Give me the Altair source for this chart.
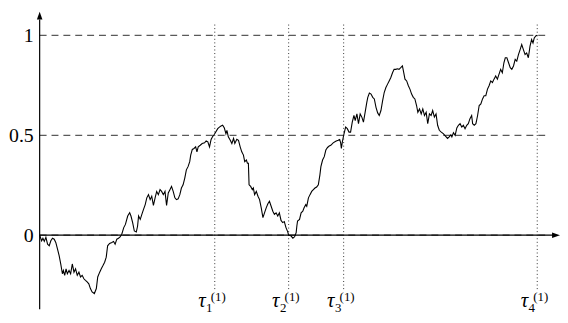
import altair as alt
import pandas as pd

# Path of the process (time index, value)
t = [0, 2, 3.3, 4.7, 6.3, 8, 9.7, 11.3, 13, 14.7,
     16.3, 18, 19.7, 21.3, 23, 24, 25.3, 26.7, 28, 29.7,
     31.3, 33, 34.7, 36.3, 38, 39.7, 41.3, 43, 44.7, 46.3,
     48, 49.7, 51.3, 53, 55.3, 57.3, 58.7, 60.7, 62.3, 64,
     65.7, 67.3, 68.7, 70.7, 73, 74.7, 76.3, 78, 79.7, 81.3, 83,
     85, 86.7, 89, 91, 92.3, 94, 95.7, 97.7, 99, 100,
     101.7, 103.3, 105, 106.7, 108.3, 110, 111.7, 113.3, 115, 116.7,
     118.3, 120, 121.7, 123.3, 125, 126.7, 128.3, 130, 131.7, 133.3,
     135, 136.7, 138.3, 140, 141.7, 143.3, 145, 146.7, 148.3, 150,
     151.7, 152.7, 154.3, 156, 157.7, 159, 160.3, 162.3, 164.3, 166.7,
     168.3, 170, 171.7, 173.3, 175, 176.7,
     180, 181.7, 183.3, 185, 186.7, 188.3, 189.3, 190.7, 192.7, 194.3,
     196, 197.3, 199.3, 201, 202.7, 204.3, 206, 207.3, 209, 210,
     211, 211.7, 213.3, 215, 216, 217.3, 219, 220.7, 222.3, 224,
     225.7, 227.3, 229, 230.7, 232.3, 234, 235.7, 237.3, 239, 240.7,
     242.3, 244, 245.7, 247.3, 249, 250.7, 251.7, 254, 256, 257.7,
     259.3, 260,
     260.7, 262.7, 264.3, 266, 267.3, 269, 270, 271.7, 273.3, 275,
     276.7, 278.3, 280, 281.7, 283.3, 284.3, 286, 287.7, 289.3, 291,
     292.7, 294.3, 296.7, 299.3, 301.7, 303.3, 304.3, 305, 306, 307.3,
     309.3, 311, 312.7, 314.3, 316, 317.7, 319, 320.7, 322.3, 324,
     325.7, 327.3, 329, 330.7,
     331.7, 333.3, 335, 336.7, 338.3, 340, 341.7, 343.3, 345, 346.7,
     348.3, 350, 351.7, 353.3, 355, 356.7, 358.3, 360, 361.7, 363.3,
     365, 366.7, 367.7, 369.3, 371, 372.7, 374.3, 376, 377.7, 379.3,
     381, 382.3, 384, 385.7, 387.3, 389, 390.7, 392.3, 394, 395.7,
     397.3, 399, 400.7, 402.3, 404, 406, 408, 410, 412.3, 414,
     415.7, 416.7, 418.3, 420,
     421.7, 423.3, 425, 426.7, 428.3, 430, 431.7, 433.3, 435, 436.7,
     437.7, 439.3, 441, 442.7, 444.3, 446, 447.7, 449.3, 451, 452.7,
     454.3, 456, 457.7, 459.3, 461, 462.7, 464.3, 466, 467.7, 469.3,
     470.7, 472.3, 474, 475.7, 477.3, 479, 480.7, 482.3, 484, 485.7,
     487.3, 489, 490.7, 492.3, 494, 495.7, 497.3, 498.7, 500, 501.7, 503]

y = [0, -0.028, -0.015, -0.031, -0.011, -0.045, -0.053, -0.028, -0.015, -0.020,
     -0.036, -0.069, -0.102, -0.144, -0.193, -0.177, -0.201, -0.168, -0.193, -0.177,
     -0.193, -0.144, -0.185, -0.168, -0.201, -0.185, -0.209, -0.201, -0.218, -0.226,
     -0.234, -0.243, -0.267, -0.284, -0.292, -0.267, -0.209, -0.185, -0.168, -0.152,
     -0.135, -0.110, -0.053, -0.041, -0.036, -0.031, -0.045, -0.020, -0.015, -0.008, 0.005,
     0.038, 0.054, 0.096, 0.112, 0.096, 0.063, 0.021, 0.016, 0.046, 0.096,
     0.079, 0.104, 0.129, 0.153, 0.187, 0.203, 0.178, 0.195, 0.149, 0.187,
     0.219, 0.203, 0.228, 0.219, 0.203, 0.219, 0.149, 0.211, 0.228, 0.244,
     0.219, 0.187, 0.178, 0.182, 0.203, 0.236, 0.252, 0.286, 0.327, 0.343,
     0.368, 0.401, 0.429, 0.434, 0.442, 0.417, 0.442, 0.450, 0.459, 0.462,
     0.472, 0.467, 0.442, 0.479, 0.495, 0.505,
     0.533, 0.541, 0.546, 0.550, 0.536, 0.508, 0.525, 0.492, 0.475, 0.459,
     0.484, 0.459, 0.480, 0.475, 0.442, 0.417, 0.401, 0.368, 0.376, 0.360,
     0.360, 0.252, 0.244, 0.228, 0.236, 0.203, 0.219, 0.195, 0.178, 0.137,
     0.088, 0.112, 0.137, 0.157, 0.170, 0.145, 0.120, 0.104, 0.112, 0.096,
     0.112, 0.074, 0.063, 0.068, 0.038, 0.018, 0.0, -0.003, -0.015, -0.008,
     0.013, 0.046,
     0.071, 0.079, 0.112, 0.120, 0.137, 0.153, 0.145, 0.187, 0.203, 0.219,
     0.228, 0.236, 0.241, 0.252, 0.302, 0.343, 0.376, 0.393, 0.426, 0.439,
     0.446, 0.450, 0.462, 0.470, 0.475, 0.479, 0.462, 0.434, 0.467, 0.5,
     0.541, 0.533, 0.516, 0.516, 0.566, 0.599, 0.574, 0.607, 0.558, 0.607,
     0.591, 0.566, 0.615, 0.665,
     0.690, 0.711, 0.706, 0.690, 0.682, 0.640, 0.612, 0.599, 0.624, 0.673,
     0.714, 0.739, 0.756, 0.772, 0.789, 0.813, 0.830, 0.830, 0.833, 0.830,
     0.838, 0.847, 0.822, 0.781, 0.772, 0.748, 0.731, 0.706, 0.690, 0.682,
     0.649, 0.615, 0.632, 0.607, 0.632, 0.599, 0.615, 0.558, 0.607, 0.599,
     0.624, 0.591, 0.607, 0.550, 0.525, 0.516, 0.508, 0.497, 0.484, 0.492,
     0.503, 0.492, 0.513, 0.5,
     0.537, 0.550, 0.558, 0.541, 0.550, 0.533, 0.550, 0.558, 0.583, 0.599,
     0.558, 0.550, 0.558, 0.599, 0.649, 0.657, 0.682, 0.698, 0.698, 0.731,
     0.748, 0.772, 0.764, 0.781, 0.797, 0.781, 0.805, 0.830, 0.813, 0.863,
     0.888, 0.888, 0.863, 0.838, 0.830, 0.847, 0.880, 0.871, 0.904, 0.929,
     0.954, 0.929, 0.904, 0.912, 0.888, 0.946, 0.979, 0.962, 0.987, 0.998, 1.0]

levels = [0, 0.5, 1]
level_labels = ["0", "0.5", "1"]
taus = [177, 251.7, 307.3, 503]
tau_sub = ["1", "2", "3", "4"]

SERIF = "'Liberation Serif', 'DejaVu Serif', serif"

W, H = 558, 307
xs = alt.Scale(domain=[-32, 526], nice=False, zero=False)
ys = alt.Scale(domain=[-0.3911, 1.1287], nice=False, zero=False)

def X(f):
    return alt.X(f, scale=xs, axis=None)

def Y(f):
    return alt.Y(f, scale=ys, axis=None)

path_df = pd.DataFrame({"t": t, "y": y, "i": list(range(len(t)))})
lvl_df = pd.DataFrame({"lvl": levels, "lab": level_labels, "t0": 0, "t1": 515})
tau_df = pd.DataFrame({"tau": taus, "sub": tau_sub, "ytop": 1.054, "ybot": -0.277})
yaxis_df = pd.DataFrame({"t": [0], "ya": [-0.371], "yb": [1.08], "yarrow": [1.099]})
xaxis_df = pd.DataFrame({"t0": [0], "t1": [519], "tarrow": [522], "y": [0]})

dashed = alt.Chart(lvl_df).mark_rule(strokeDash=[7, 5], color="#5a5a5a", strokeWidth=1.2).encode(
    x=X("t0:Q"), x2="t1:Q", y=Y("lvl:Q"))

dotted = alt.Chart(tau_df).mark_rule(strokeDash=[1, 2.6], color="#333333", strokeWidth=1).encode(
    x=X("tau:Q"), y=Y("ytop:Q"), y2="ybot:Q")

yaxis = alt.Chart(yaxis_df).mark_rule(color="black", strokeWidth=1.2).encode(
    x=X("t:Q"), y=Y("ya:Q"), y2="yb:Q")
yarrow = alt.Chart(yaxis_df).mark_point(
    shape="M0,-1L0.7,1L-0.7,1Z", filled=True, color="black", size=64, opacity=1, strokeWidth=0
).encode(x=X("t:Q"), y=Y("yarrow:Q"))

xaxis = alt.Chart(xaxis_df).mark_rule(color="black", strokeWidth=1.2).encode(
    x=X("t0:Q"), x2="t1:Q", y=Y("y:Q"))
xarrow = alt.Chart(xaxis_df).mark_point(
    shape="M1,0L-1,-0.7L-1,0.7Z", filled=True, color="black", size=64, opacity=1, strokeWidth=0
).encode(x=X("tarrow:Q"), y=Y("y:Q"))

path = alt.Chart(path_df).mark_line(color="black", strokeWidth=1.1, strokeJoin="miter").encode(
    x=X("t:Q"), y=Y("y:Q"), order="i:Q")

ylabels = alt.Chart(lvl_df).mark_text(
    align="right", baseline="middle", font=SERIF, fontSize=20, color="black", dy=1
).encode(x=alt.value(26), y=Y("lvl:Q"), text="lab:N")

tau_main = alt.Chart(tau_df).mark_text(
    text="τ", align="center", baseline="alphabetic", font=SERIF,
    fontStyle="italic", fontSize=21, color="black", dx=-13
).encode(x=X("tau:Q"), y=alt.value(301))
tau_subs = alt.Chart(tau_df).mark_text(
    align="center", baseline="alphabetic", font=SERIF, fontSize=13,
    color="black", dx=-5.5
).encode(x=X("tau:Q"), y=alt.value(306), text="sub:N")
tau_sup = alt.Chart(tau_df).mark_text(
    text="(1)", align="center", baseline="alphabetic", font=SERIF, fontSize=13,
    color="black", dx=3.5
).encode(x=X("tau:Q"), y=alt.value(295))

chart = alt.layer(
    dashed, dotted, xaxis, yaxis, path, xarrow, yarrow, ylabels, tau_main, tau_subs, tau_sup
).properties(
    width=W, height=H, padding=0, autosize="none", background="white"
).configure_view(stroke=None)

chart.save("out.html", embed_options={"renderer": "svg", "actions": False})
